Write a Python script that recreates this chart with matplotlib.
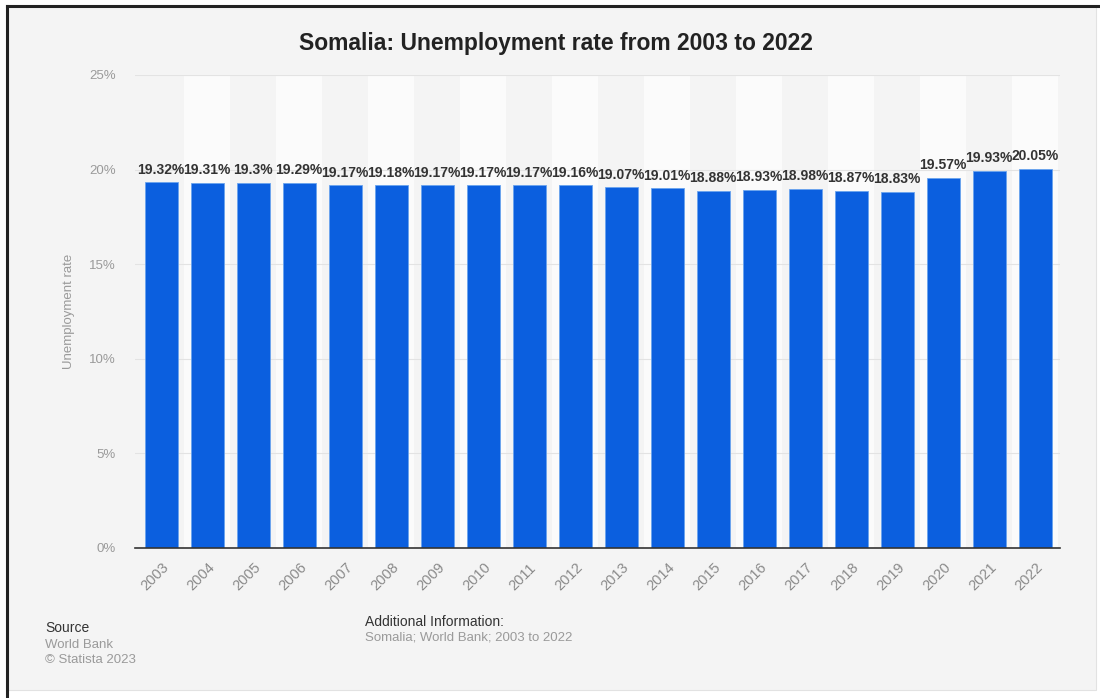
import matplotlib.pyplot as plt
from matplotlib.lines import Line2D
from matplotlib.patches import Rectangle

years = [str(y) for y in range(2003, 2023)]
rates = [19.32, 19.31, 19.3, 19.29, 19.17, 19.18, 19.17, 19.17, 19.17, 19.16,
         19.07, 19.01, 18.88, 18.93, 18.98, 18.87, 18.83, 19.57, 19.93, 20.05]
rate_labels = ['19.32%', '19.31%', '19.3%', '19.29%', '19.17%', '19.18%', '19.17%',
               '19.17%', '19.17%', '19.16%', '19.07%', '19.01%', '18.88%', '18.93%',
               '18.98%', '18.87%', '18.83%', '19.57%', '19.93%', '20.05%']
y_ticks = [0, 5, 10, 15, 20, 25]

plt.rcParams['font.family'] = ['Liberation Sans', 'DejaVu Sans']

bg = '#f4f4f4'
fig = plt.figure(figsize=(11, 6.98), dpi=100)
fig.patch.set_facecolor('white')

# card background with dark top/left edge
fig.patches.append(Rectangle((7 / 1100, 8 / 698), 1089 / 1100, 684 / 698,
                             transform=fig.transFigure, facecolor=bg,
                             edgecolor='#e2e2e2', linewidth=0.8, zorder=-10))
fig.lines.append(Line2D([7 / 1100, 7 / 1100], [0, 692 / 698], transform=fig.transFigure,
                        color='#222222', linewidth=2.2, zorder=-5))
fig.lines.append(Line2D([7 / 1100, 1], [692 / 698, 692 / 698], transform=fig.transFigure,
                        color='#222222', linewidth=2.2, zorder=-5))

ax = fig.add_axes([0.1227, 0.2149, 0.841, 0.6777])
ax.set_facecolor(bg)

x = list(range(len(years)))

# alternating column shading
for i in x:
    if i % 2 == 1:
        ax.axvspan(i - 0.5, i + 0.5, color='#fbfbfb', zorder=0, linewidth=0)

for t in y_ticks[1:]:
    ax.axhline(t, color='#e3e3e3', linewidth=0.8, zorder=1)

bars = ax.bar(x, rates, width=0.72, color='#0b5fdf', edgecolor='#6aa4ee',
              linewidth=0.6, zorder=2)

for bar, lab in zip(bars, rate_labels):
    ax.annotate(lab, (bar.get_x() + bar.get_width() / 2, bar.get_height()),
                xytext=(0, 4), textcoords='offset points', ha='center', va='bottom',
                fontsize=10, fontweight='bold', color='#333333', zorder=3)

ax.set_xlim(-0.57, 19.54)
ax.set_ylim(0, 25)
ax.set_yticks(y_ticks)
ax.set_yticklabels([f'{t}%' for t in y_ticks])
ax.set_xticks(x)
ax.set_xticklabels(years, rotation=45, ha='right', rotation_mode='anchor')
ax.tick_params(axis='y', length=0, pad=14, labelsize=9.5, labelcolor='#9a9a9a')
ax.tick_params(axis='x', length=0, pad=9, labelsize=10.5, labelcolor='#8a8a8a')

for side in ['top', 'right', 'left']:
    ax.spines[side].set_visible(False)
ax.spines['bottom'].set_color('#333333')
ax.spines['bottom'].set_linewidth(1.2)

ax.set_ylabel('Unemployment rate', fontsize=9.5, color='#9a9a9a', labelpad=10)

fig.text(0.505, 0.938, 'Somalia: Unemployment rate from 2003 to 2022', ha='center',
         va='center', fontsize=16.5, fontweight='bold', color='#222222')

fig.text(45 / 1100, 1 - 628 / 698, 'Source', fontsize=10, color='#333333', va='center')
fig.text(45 / 1100, 1 - 645 / 698, 'World Bank', fontsize=9.5, color='#9a9a9a', va='center')
fig.text(45 / 1100, 1 - 660 / 698, '© Statista 2023', fontsize=9.5, color='#9a9a9a', va='center')
fig.text(365 / 1100, 1 - 622 / 698, 'Additional Information:', fontsize=10, color='#333333',
         va='center')
fig.text(365 / 1100, 1 - 637 / 698, 'Somalia; World Bank; 2003 to 2022', fontsize=9.5,
         color='#9a9a9a', va='center')

fig.savefig('out.png', dpi=100, facecolor=fig.get_facecolor())
